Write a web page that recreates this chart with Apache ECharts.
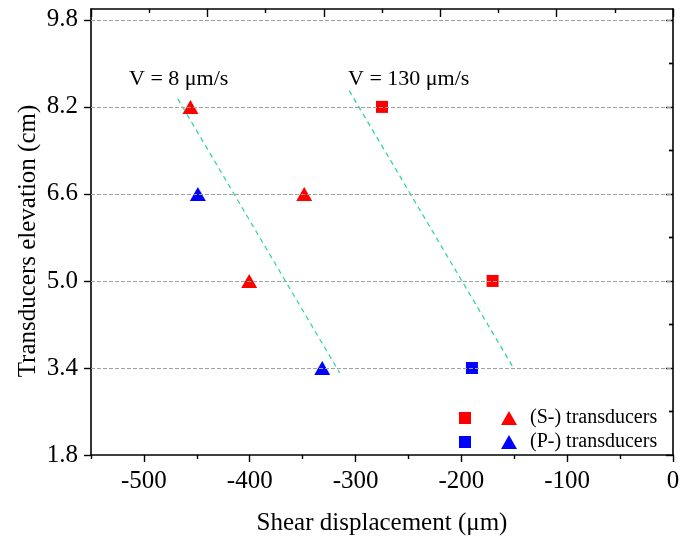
<!DOCTYPE html>
<html><head><meta charset="utf-8">
<script src="https://cdn.jsdelivr.net/npm/echarts@6/dist/echarts.min.js"></script>
<style>html,body{margin:0;padding:0;background:#fff}#c{width:696px;height:542px}</style>
</head><body><div id="c"></div>
<script>
// ---- data ----
const xTicks = [-500, -400, -300, -200, -100, 0];
const xMinorTicks = [-550, -450, -350, -250, -150, -50];
const yTicks = [1.8, 3.4, 5.0, 6.6, 8.2, 9.8];
const yMinorTicks = [2.6, 4.2, 5.8, 7.4, 9.0];
const gridValues = [3.4, 5.0, 6.6, 8.2, 9.8];
const sTriangles = [[-456, 8.2], [-348.5, 6.6], [-400.5, 5.0]];
const pTriangles = [[-449, 6.6], [-331.5, 3.4]];
const sSquares = [[-275, 8.2], [-170.5, 5.0]];
const pSquares = [[-190, 3.4]];
const fit8 = [[-468, 8.35], [-315, 3.31]];
const fit130 = [[-306, 8.50], [-152, 3.44]];
const annotations = [{ text: 'V = 8 μm/s', x: 129, y: 68 }, { text: 'V = 130 μm/s', x: 348, y: 68 }];
const yTitle = 'Transducers elevation (cm)';

const FONT = '"Liberation Serif", "Times New Roman", serif';
const RED = '#ff0000', BLUE = '#0000ff', GREEN = '#2fd6a0';
const axisLine = { show: true, lineStyle: { color: '#000', width: 1.6 } };

const chart = echarts.init(document.getElementById('c'), null, { renderer: 'canvas' });
chart.setOption({
  backgroundColor: '#fff',
  animation: false,
  grid: { left: 91, right: 23, top: 9, bottom: 87 },
  xAxis: [
    { type: 'value', position: 'bottom', min: -550, max: 0,
      axisLine: axisLine,
      axisTick: { show: true, length: 7, customValues: xTicks, lineStyle: { color: '#000', width: 1.4 } },
      axisLabel: { customValues: xTicks, margin: 14, color: '#000', fontFamily: FONT, fontSize: 25 },
      splitLine: { show: false },
      name: 'Shear displacement (μm)', nameLocation: 'middle', nameGap: 56,
      nameTextStyle: { color: '#000', fontFamily: FONT, fontSize: 25 } },
    { type: 'value', position: 'bottom', min: -550, max: 0,
      axisLine: { show: false },
      axisTick: { show: true, length: 4, customValues: xMinorTicks, lineStyle: { color: '#000', width: 1.4 } },
      axisLabel: { show: false }, splitLine: { show: false } },
    { type: 'value', position: 'top', min: 0, max: 5, interval: 1,
      axisLine: axisLine,
      axisTick: { show: true, inside: true, length: 8, lineStyle: { color: '#000', width: 1.4 } },
      minorTick: { show: true, splitNumber: 2, length: 4, lineStyle: { color: '#000', width: 1.4 } },
      axisLabel: { show: false }, splitLine: { show: false } }
  ],
  yAxis: [
    { type: 'value', position: 'left', min: 1.8, max: 10.0,
      axisLine: axisLine,
      axisTick: { show: true, length: 7, customValues: yTicks, lineStyle: { color: '#000', width: 1.4 } },
      axisLabel: { customValues: yTicks, margin: 13, color: '#000', fontFamily: FONT, fontSize: 25,
                   formatter: v => Number(v).toFixed(1) },
      splitLine: { show: false } },
    { type: 'value', position: 'left', min: 1.8, max: 10.0,
      axisLine: { show: false },
      axisTick: { show: true, length: 4, customValues: yMinorTicks, lineStyle: { color: '#000', width: 1.4 } },
      axisLabel: { show: false }, splitLine: { show: false } },
    { type: 'value', position: 'right', min: 1.8, max: 10.0,
      axisLine: axisLine,
      axisTick: { show: true, inside: true, length: 7, customValues: yTicks, lineStyle: { color: '#000', width: 1.4 } },
      axisLabel: { show: false }, splitLine: { show: false } },
    { type: 'value', position: 'right', min: 1.8, max: 10.0,
      axisLine: { show: false },
      axisTick: { show: true, inside: true, length: 4, customValues: yMinorTicks, lineStyle: { color: '#000', width: 1.4 } },
      axisLabel: { show: false }, splitLine: { show: false } }
  ],
  legend: [
    { left: 454, top: 407, orient: 'vertical', itemGap: 12, itemWidth: 12, itemHeight: 12,
      data: ['(S-) squares', '(P-) squares'], formatter: () => '', selectedMode: false,
      itemStyle: { opacity: 1 } },
    { left: 496, top: 401, orient: 'vertical', itemGap: 0, itemWidth: 16, itemHeight: 14,
      data: ['(S-) transducers', '(P-) transducers'], selectedMode: false,
      itemStyle: { opacity: 1 },
      textStyle: { color: '#000', fontSize: 20, lineHeight: 24, fontFamily: FONT, padding: [0, 0, 0, 8] } }
  ],
  graphic: annotations.map(a => ({
    type: 'text', left: a.x, top: a.y, silent: true,
    style: { text: a.text, fill: '#000', font: '22px ' + FONT }
  })).concat([{
    type: 'text', x: 28, y: 241, rotation: Math.PI / 2, silent: true,
    style: { text: yTitle, fill: '#000', font: '25px ' + FONT, align: 'center', verticalAlign: 'middle' }
  }]),
  series: [
    { type: 'line', name: 'grid', data: [], silent: true,
      markLine: { silent: true, symbol: 'none', label: { show: false },
        lineStyle: { color: '#a0a0a0', type: [4, 2], width: 1 },
        data: gridValues.map(v => ({ yAxis: v })) } },
    { type: 'line', name: 'fit8', data: fit8, symbol: 'none', silent: true,
      lineStyle: { color: GREEN, type: [5, 4], width: 1.3 } },
    { type: 'line', name: 'fit130', data: fit130, symbol: 'none', silent: true,
      lineStyle: { color: GREEN, type: [5, 4], width: 1.3 } },
    { type: 'scatter', name: '(S-) transducers', data: sTriangles, symbol: 'triangle', symbolSize: [16, 14],
      itemStyle: { color: RED, opacity: 1 } },
    { type: 'scatter', name: '(P-) transducers', data: pTriangles, symbol: 'triangle', symbolSize: [16, 14],
      itemStyle: { color: BLUE, opacity: 1 } },
    { type: 'scatter', name: '(S-) squares', data: sSquares, symbol: 'rect', symbolSize: 12,
      itemStyle: { color: RED, opacity: 1 } },
    { type: 'scatter', name: '(P-) squares', data: pSquares, symbol: 'rect', symbolSize: 12,
      itemStyle: { color: BLUE, opacity: 1 } }
  ]
});
</script></body></html>
